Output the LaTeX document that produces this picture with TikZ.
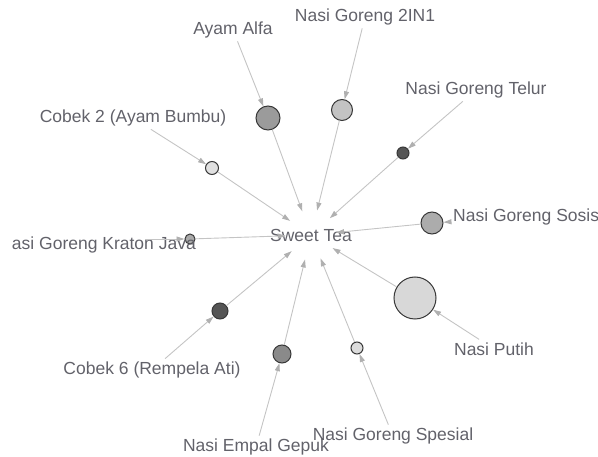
\documentclass[tikz,border=0pt]{standalone}
\usepackage{fontspec}
\setmainfont{Liberation Sans}
\usetikzlibrary{arrows.meta}
\definecolor{txt}{HTML}{62626A}
\definecolor{edge}{HTML}{C4C4C4}
\definecolor{tip}{HTML}{B0B0B0}
\definecolor{ring}{HTML}{383838}
\tikzset{
  lbl/.style={font=\fontsize{17.5}{19}\selectfont, text=txt, inner sep=3pt},
  rule/.style={circle, draw=ring, line width=1pt, inner sep=0pt, minimum size=#1},
  conn/.style={draw=edge, line width=0.9pt, -{Triangle[length=8pt,width=5pt,color=tip]}},
}
\begin{document}
\begin{tikzpicture}[x=1pt,y=-1pt]
\useasboundingbox (0,0) rectangle (598,457);
% Sweet Tea
\node[circle, minimum size=50pt, inner sep=0pt, label={[lbl]center:Sweet Tea}] (st) at (311,235) {};
% rule circles
\node[rule=24pt, fill={rgb,255:red,155;green,155;blue,155}] (r1) at (268,118) {};
\node[rule=21pt, fill={rgb,255:red,195;green,195;blue,195}] (r2) at (342,110) {};
\node[rule=12pt, fill={rgb,255:red,85;green,85;blue,85}] (r3) at (403,153) {};
\node[rule=13pt, fill={rgb,255:red,224;green,224;blue,224}] (r4) at (212,168) {};
\node[rule=10pt, fill={rgb,255:red,170;green,170;blue,170}] (r5) at (190,239) {};
\node[rule=22pt, fill={rgb,255:red,172;green,172;blue,172}] (r6) at (432,223) {};
\node[rule=42pt, fill={rgb,255:red,216;green,216;blue,216}] (r7) at (415,298) {};
\node[rule=12pt, fill={rgb,255:red,220;green,220;blue,220}] (r8) at (357,348) {};
\node[rule=18pt, fill={rgb,255:red,138;green,138;blue,138}] (r9) at (282,354) {};
\node[rule=16pt, fill={rgb,255:red,85;green,85;blue,85}] (r10) at (220,311) {};
% labels
\node[lbl] (l1) at (233,30) {Ayam Alfa};
\node[lbl] (l2) at (365,17) {Nasi Goreng 2IN1};
\node[lbl] (l3) at (476,90) {Nasi Goreng Telur};
\node[lbl] (l4) at (133,118) {Cobek 2 (Ayam Bumbu)};
\node[lbl, anchor=east] (l5) at (199,245) {asi Goreng Kraton Java};
\coordinate (l5s) at (145,239);
\node[lbl, anchor=west] (l6) at (450,217) {Nasi Goreng Sosis};
\node[lbl] (l7) at (494,349) {Nasi Putih};
\node[lbl] (l8) at (393,436) {Nasi Goreng Spesial};
\node[lbl] (l9) at (256,447) {Nasi Empal Gepuk};
\node[lbl] (l10) at (152,370) {Cobek 6 (Rempela Ati)};
% connectors: item -> rule
\draw[conn] (l1) -- (r1);
\draw[conn] (l2) -- (r2);
\draw[conn] (l3) -- (r3);
\draw[conn] (l4) -- (r4);
\draw[conn] (l5s) -- (r5);
\draw[conn] (l6) -- (r6);
\draw[conn] (l7) -- (r7);
\draw[conn] (l8) -- (r8);
\draw[conn] (l9) -- (r9);
\draw[conn] (l10) -- (r10);
% connectors: rule -> Sweet Tea
\foreach \r in {r1,r2,r3,r4,r5,r6,r7,r8,r9,r10}
  \draw[conn] (\r) -- (st);
\end{tikzpicture}
\end{document}
